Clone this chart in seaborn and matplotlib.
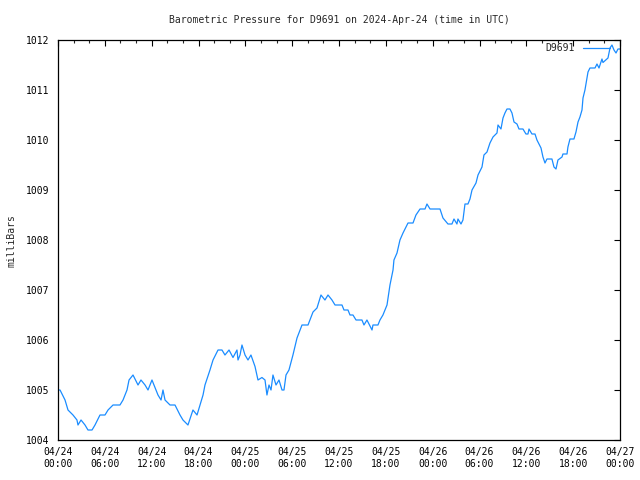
import matplotlib
matplotlib.use("Agg")
import matplotlib.pyplot as plt
import numpy as np
import pandas as pd
import seaborn as sns

# hours since 2024-04-24 00:00 UTC
hours = [0.0, 0.26, 0.9, 1.28, 1.92, 2.43, 2.56, 2.95, 3.46, 3.84, 4.36, 4.74, 5.38, 6.02, 6.41,
         7.05, 7.94, 8.33, 8.84, 9.1, 9.61, 10.25, 10.63, 11.15, 11.53, 12.04, 12.81, 13.2, 13.45,
         13.71, 14.35, 14.99, 15.63, 16.01, 16.65, 17.29, 17.81, 18.19, 18.58, 18.83, 19.47, 19.86,
         20.5, 21.01, 21.39, 21.91, 22.42, 22.93, 23.06, 23.32, 23.57, 23.96, 24.34, 24.72, 25.24,
         25.62, 26.13, 26.52, 26.77, 27.03, 27.29, 27.54, 27.93, 28.31, 28.7, 28.95, 29.21, 29.59,
         30.1, 30.62, 31.26, 32.03, 32.67, 33.18, 33.69, 34.2, 34.59, 35.1, 35.49, 36.38, 36.64,
         37.15, 37.41, 37.79, 38.18, 38.94, 39.2, 39.58, 40.23, 40.35, 40.99, 41.25, 41.63, 42.15,
         42.53, 42.92, 43.04, 43.43, 43.81, 44.2, 44.84, 45.48, 45.86, 46.38, 47.02, 47.27, 47.66,
         48.94, 49.32, 49.96, 50.47, 50.73, 51.11, 51.24, 51.63, 51.88, 52.14, 52.52, 52.78, 53.04,
         53.55, 53.81, 54.32, 54.57, 54.96, 55.34, 55.73, 56.24, 56.37, 56.75, 57.01, 57.26, 57.52,
         57.9, 58.16, 58.42, 58.8, 59.06, 59.57, 59.95, 60.21, 60.34, 60.72, 61.11, 61.36, 61.88,
         62.13, 62.39, 62.64, 63.28, 63.54, 63.8, 64.05, 64.57, 64.69, 65.21, 65.33, 65.59, 66.1,
         66.36, 66.62, 66.87, 67.13, 67.26, 67.51, 67.9, 68.15, 68.8, 69.05, 69.31, 69.69, 69.82,
         70.46, 70.72, 70.97, 71.23, 71.49, 71.74, 72.0]
pressure = [1005.0, 1005.0, 1004.8, 1004.6, 1004.5, 1004.4, 1004.3, 1004.4, 1004.3, 1004.2, 1004.2,
            1004.3, 1004.5, 1004.5, 1004.6, 1004.7, 1004.7, 1004.8, 1005.0, 1005.2, 1005.3, 1005.1,
            1005.2, 1005.1, 1005.0, 1005.2, 1004.9, 1004.8, 1005.0, 1004.8, 1004.7, 1004.7, 1004.5,
            1004.4, 1004.3, 1004.6, 1004.5, 1004.7, 1004.9, 1005.1, 1005.4, 1005.6, 1005.8, 1005.8,
            1005.7, 1005.8, 1005.65, 1005.8, 1005.6, 1005.7, 1005.9, 1005.7, 1005.6, 1005.7, 1005.47,
            1005.2, 1005.25, 1005.2, 1004.9, 1005.1, 1005.0, 1005.3, 1005.1, 1005.2, 1005.0, 1005.0,
            1005.3, 1005.4, 1005.7, 1006.04, 1006.3, 1006.3, 1006.56, 1006.64, 1006.9, 1006.8, 1006.9,
            1006.8, 1006.7, 1006.7, 1006.6, 1006.6, 1006.5, 1006.5, 1006.4, 1006.4, 1006.3, 1006.4,
            1006.2, 1006.3, 1006.3, 1006.4, 1006.5, 1006.7, 1007.1, 1007.4, 1007.6, 1007.74, 1008.0,
            1008.14, 1008.34, 1008.34, 1008.5, 1008.62, 1008.62, 1008.72, 1008.62, 1008.62, 1008.44,
            1008.32, 1008.32, 1008.42, 1008.32, 1008.42, 1008.32, 1008.4, 1008.72, 1008.72, 1008.82,
            1009.0, 1009.14, 1009.3, 1009.46, 1009.7, 1009.76, 1009.94, 1010.06, 1010.14, 1010.3,
            1010.22, 1010.44, 1010.54, 1010.62, 1010.62, 1010.54, 1010.36, 1010.32, 1010.22, 1010.22,
            1010.12, 1010.12, 1010.22, 1010.12, 1010.12, 1010.0, 1009.84, 1009.66, 1009.54, 1009.62,
            1009.62, 1009.46, 1009.42, 1009.6, 1009.66, 1009.72, 1009.72, 1009.86, 1010.02, 1010.02,
            1010.16, 1010.36, 1010.46, 1010.6, 1010.84, 1011.0, 1011.36, 1011.44, 1011.44, 1011.52,
            1011.44, 1011.62, 1011.55, 1011.64, 1011.84, 1011.9, 1011.8, 1011.74, 1011.82, 1011.82]

station = "D9691"
title = "Barometric Pressure for D9691 on 2024-Apr-24 (time in UTC)"
ylabel = "milliBars"
y_ticks = [1004, 1005, 1006, 1007, 1008, 1009, 1010, 1011, 1012]

start = pd.Timestamp("2024-04-24 00:00")
df = pd.DataFrame({
    "time": start + pd.to_timedelta(hours, unit="h"),
    "pressure": pressure,
    "station": station,
})

sns.set_style("white")
plt.rcParams["font.family"] = ["DejaVu Sans Mono", "DejaVu Sans"]
FS = 7

fig = plt.figure(figsize=(6.4, 4.8), dpi=100)
ax = fig.add_axes([58 / 640, 40 / 480, 562 / 640, 400 / 480])

sns.lineplot(data=df, x="time", y="pressure", hue="station", palette=["#1a8cff"],
             linewidth=0.9, ax=ax)

ax.set_xlim(start, start + pd.Timedelta(hours=72))
ax.set_ylim(1004, 1012)
ax.set_yticks(y_ticks)
ax.set_yticklabels([str(v) for v in y_ticks])

major = [start + pd.Timedelta(hours=h) for h in range(0, 73, 6)]
minor = [start + pd.Timedelta(hours=h) for h in range(0, 73, 2) if h % 6 != 0]
ax.set_xticks(major)
ax.set_xticklabels([t.strftime("%m/%d\n%H:%M") for t in major], linespacing=1.25)
ax.set_xticks(minor, minor=True)

ax.tick_params(axis="both", which="major", direction="in", length=4.5, width=0.8,
               top=True, right=True, labelsize=FS, colors="black")
ax.tick_params(axis="x", which="major", pad=5)
ax.tick_params(axis="y", which="major", pad=6)
ax.tick_params(axis="x", which="minor", direction="in", length=2.5, width=0.8, top=True)
for s in ax.spines.values():
    s.set_visible(True)
    s.set_color("black")
    s.set_linewidth(0.9)

ax.set_xlabel("")
ax.set_ylabel("")
fig.text(339 / 640, 1 - 20 / 480, title, ha="center", va="center", fontsize=FS)
fig.text(12 / 640, 1 - 241 / 480, ylabel, ha="center", va="center", rotation=90, fontsize=FS)

leg = ax.legend(loc="upper right", bbox_to_anchor=(610 / 640, 1 - 43 / 480),
                bbox_transform=fig.transFigure, frameon=False, markerfirst=False,
                fontsize=FS, handlelength=2.8, borderaxespad=0, borderpad=0,
                handletextpad=0.8)

fig.savefig("out.png", dpi=100)
